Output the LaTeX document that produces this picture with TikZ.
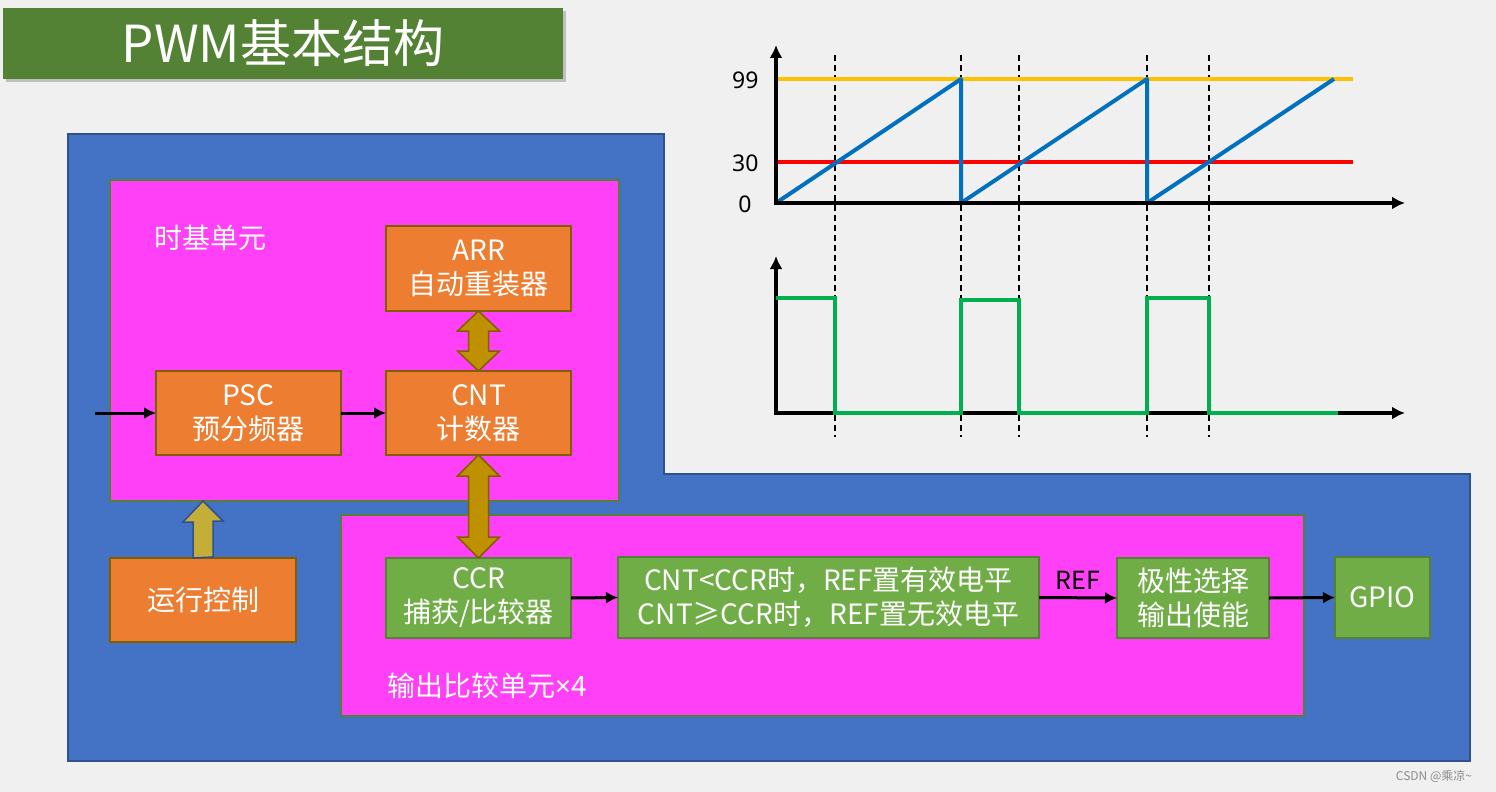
\documentclass[tikz,border=0pt]{standalone}
\usepackage{fontspec}
\setmainfont{Noto Sans CJK SC}
\newfontfamily\latinf{Noto Sans}
\usetikzlibrary{calc,arrows.meta}
\definecolor{bgC}{HTML}{F0F0F0}
\definecolor{blueC}{HTML}{4472C4}
\definecolor{blueB}{HTML}{2F528F}
\definecolor{magC}{HTML}{FF40F6}
\definecolor{orangeC}{HTML}{ED7D31}
\definecolor{oliveC}{HTML}{7F6000}
\definecolor{greenC}{HTML}{70AD47}
\definecolor{greenB}{HTML}{548235}
\definecolor{titleC}{HTML}{548235}
\definecolor{goldC}{HTML}{BF9000}
\definecolor{upC}{HTML}{C4AE38}
\definecolor{yelC}{HTML}{FFC000}
\definecolor{redC}{HTML}{FF0000}
\definecolor{sawC}{HTML}{0070C0}
\definecolor{pwmC}{HTML}{00B050}
\begin{document}
\begin{tikzpicture}[x=1pt,y=-1pt,
  box/.style={draw, line width=2pt, outer sep=0pt, inner sep=0pt, text=white, align=center, font=\fontsize{28}{34}\selectfont},
  obox/.style={box, fill=orangeC, draw=oliveC},
  gbox/.style={box, fill=greenC, draw=greenB},
  region/.style={fill=magC, draw=greenB, line width=1.5pt, outer sep=0pt},
  conn/.style={line width=3pt, -{Latex[length=12pt,width=12pt]}},
  dbl/.style={fill=goldC, draw=oliveC, line width=1.5pt, line join=miter},
  axis/.style={line width=3.5pt, -{Latex[length=13pt,width=13pt]}},
  guide/.style={line width=1.3pt, dash pattern=on 6pt off 4pt},
  lbl/.style={text=white, font=\fontsize{28}{32}\selectfont},
  tick/.style={font=\latinf\fontsize{23}{26}\selectfont, anchor=east}
]
\useasboundingbox (0,0) rectangle (1496,792);
\fill[bgC] (0,0) rectangle (1496,792);

% title
\fill[black!25] (6,11) rectangle (566,82);
\node[fill=titleC, minimum width=560pt, minimum height=71pt, inner sep=0pt, outer sep=0pt,
      text=white, font=\fontsize{51}{54}\selectfont] (title) at (283,43.5) {PWM基本结构};

% blue background
\filldraw[fill=blueC, draw=blueB, line width=1.5pt]
  (68,134) -- (664,134) -- (664,474) -- (1470,474) -- (1470,761) -- (68,761) -- cycle;

% regions
\node[region, minimum width=509pt, minimum height=321pt] (tb) at (364.5,340.5) {};
\node[lbl] (tbl) at (210,238) {时基单元};
\node[region, minimum width=963pt, minimum height=201pt] (oc) at (822.5,615.5) {};
\node[lbl] (ocl) at (487,686) {输出比较单元{\latinf ×}4};

% boxes
\node[obox, minimum width=185pt, minimum height=85pt] (arr) at (478.5,268.5) {ARR\\自动重装器};
\node[obox, minimum width=185pt, minimum height=84pt] (psc) at (248.5,413) {PSC\\预分频器};
\node[obox, minimum width=185pt, minimum height=84pt] (cnt) at (478.5,413) {CNT\\计数器};
\node[obox, minimum width=186pt, minimum height=84pt] (run) at (203,600) {运行控制};
\node[gbox, minimum width=185pt, minimum height=80pt] (ccr) at (478.5,598) {CCR\\捕获/比较器};
\node[gbox, minimum width=421pt, minimum height=81pt] (cmp) at (828.5,597.5) {CNT<CCR时，REF置有效电平\\CNT≥CCR时，REF置无效电平};
\node[gbox, minimum width=152pt, minimum height=80pt] (pol) at (1193,598) {极性选择\\输出使能};
\node[gbox, minimum width=95pt, minimum height=81pt] (gpio) at (1382.5,597.5) {GPIO};

% connectors
\coordinate (in) at (95,413);
\draw[conn] (in) -- (psc.west);
\draw[conn] (psc.east) -- (cnt.west);
\draw[conn] (ccr.east) -- (cmp.west);
\draw[conn] (cmp.east) -- node[above=3pt, font=\fontsize{25}{28}\selectfont, text=black] (ref) {REF} (pol.west);
\draw[conn] (pol.east) -- (gpio.west);

% double block arrows
\draw[dbl] (arr.south) -- ++(-21,20) -- ++(11,0) -- ++(0,20) -- ++(-11,0) -- (cnt.north)
  -- ++(21,-20) -- ++(-11,0) -- ++(0,-20) -- ++(11,0) -- cycle;
\draw[dbl] (cnt.south) -- ++(-21,21) -- ++(11,0) -- ++(0,61) -- ++(-11,0) -- (ccr.north)
  -- ++(21,-21) -- ++(-11,0) -- ++(0,-61) -- ++(11,0) -- cycle;
% up arrow
\coordinate (uptip) at (run.north |- tb.south);
\draw[fill=upC, draw=blueB, line width=1.5pt, line join=miter]
  (run.north) ++(-10,0) -- ++(0,-36) -- ++(-10,0) -- (uptip) -- ++(20,20) -- ++(-10,0) -- ++(0,36) -- cycle;

% chart
\foreach \x in {835,961,1019,1147,1209} \draw[guide] (\x,55) -- (\x,437);
\draw[yelC, line width=4pt] (776,79) -- (1353,79);
\draw[redC, line width=4pt] (776,162) -- (1353,162);
\draw[sawC, line width=4pt, line join=round] (776,203) -- (961,79) -- (961,203) -- (1147,79) -- (1147,203) -- (1334,79);
\draw[axis] (776,205) -- (776,45);
\draw[axis] (774,203) -- (1405,203);
\node[tick] (t99) at (762,80) {99};
\node[tick] (t30) at (762,163) {30};
\node[tick] (t0) at (755,204) {0};
\draw[axis] (776,415) -- (776,256);
\draw[axis] (774,413) -- (1405,413);
\draw[pwmC, line width=4pt] (776,298) -- (835,298) -- (835,413) -- (961,413) -- (961,300) -- (1019,300) -- (1019,413) -- (1147,413) -- (1147,298) -- (1209,298) -- (1209,413) -- (1338,413);

% watermark
\node[text=black!45, font=\fontsize{12}{14}\selectfont] (wm) at (1434,776) {CSDN @乘凉\textasciitilde};
\end{tikzpicture}
\end{document}
